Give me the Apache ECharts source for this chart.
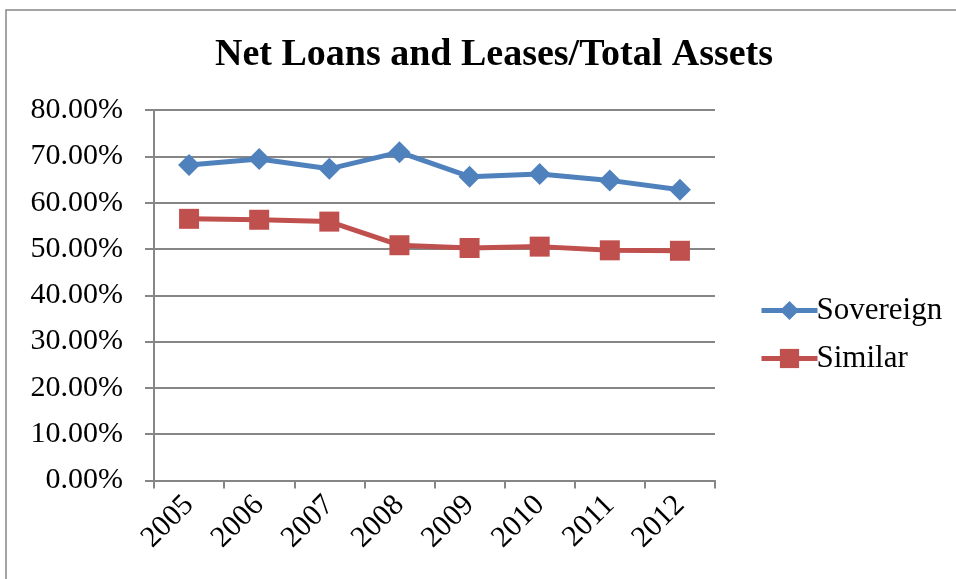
<!DOCTYPE html>
<html><head><meta charset="utf-8">
<script src="https://cdn.jsdelivr.net/npm/echarts@6/dist/echarts.min.js"></script>
<style>html,body{margin:0;padding:0;background:#fff}#c{width:956px;height:579px}</style>
</head><body><div id="c"></div>
<script>
const categories = ['2005','2006','2007','2008','2009','2010','2011','2012'];
const sovereign = [68.1, 69.4, 67.3, 70.9, 65.6, 66.2, 64.8, 62.8];
const similar = [56.5, 56.3, 55.9, 50.8, 50.2, 50.5, 49.7, 49.6];
const seriesNames = ['Sovereign', 'Similar'];

const font = "'Liberation Serif', 'Times New Roman', serif";
const chart = echarts.init(document.getElementById('c'));
chart.setOption({
  animation: false,
  backgroundColor: '#fff',
  graphic: [{type:'rect', shape:{x:6, y:10, width:1000, height:600}, style:{fill:'none', stroke:'#868686', lineWidth:1.5}, z:-1}],
  title: {text: 'Net Loans and Leases/Total Assets', left: 489, textAlign: 'center', top: 31,
    textStyle: {fontFamily: font, fontWeight: 'bold', fontSize: 38, color: '#000'}},
  grid: {left: 154, right: 241, top: 110, bottom: 98.5, containLabel: false},
  legend: {orient: 'vertical', left: 754, top: 290, itemWidth: 56, itemHeight: 24, itemGap: 17,
    lineStyle: {width: 5},
    textStyle: {fontFamily: font, fontSize: 31, color: '#000', padding: [0,0,0,-6]}, data: seriesNames},
  xAxis: {type: 'category', data: categories, boundaryGap: true,
    axisLine: {lineStyle: {color: '#868686', width: 2}},
    axisTick: {show: true, length: 8, lineStyle: {color: '#868686', width: 2}},
    axisLabel: {rotate: 45, fontFamily: font, fontSize: 30, color: '#000', margin: 20}},
  yAxis: {type: 'value', min: 0, max: 80, interval: 10,
    axisLine: {show: true, lineStyle: {color: '#868686', width: 2}},
    axisTick: {show: true, length: 9, lineStyle: {color: '#868686', width: 2}},
    splitLine: {lineStyle: {color: '#868686', width: 2}},
    axisLabel: {formatter: v => v.toFixed(2) + '%', fontFamily: font, fontSize: 30, color: '#000', margin: 31}},
  series: [
    {name: seriesNames[0], type: 'line', data: sovereign, symbol: 'diamond', symbolSize: 22,
     lineStyle: {color: '#4F81BD', width: 5}, itemStyle: {color: '#4F81BD'}},
    {name: seriesNames[1], type: 'line', data: similar, symbol: 'rect', symbolSize: 20,
     lineStyle: {color: '#C0504D', width: 5}, itemStyle: {color: '#C0504D'}}
  ]
});
</script></body></html>
